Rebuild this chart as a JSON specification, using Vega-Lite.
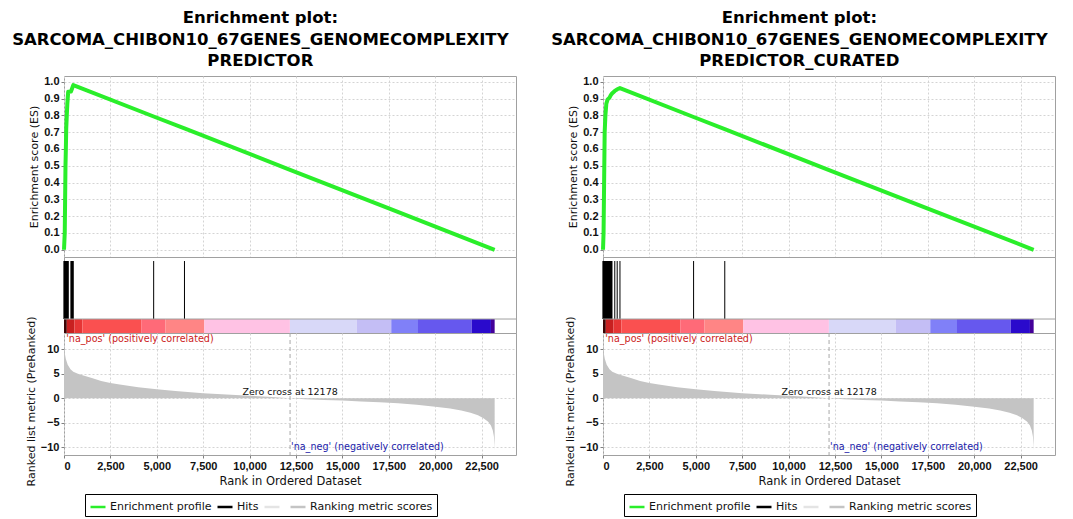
{
  "$schema": "https://vega.github.io/schema/vega-lite/v6.json",
  "background": "white",
  "padding": {"left": 11, "top": 9, "right": 5, "bottom": 0},
  "config": {
    "font": "DejaVu Sans",
    "view": {"stroke": "#a0a0a0", "strokeWidth": 1},
    "axis": {"gridColor": "#d4d4d4", "gridDash": [2, 2], "gridWidth": 1, "domain": false, "tickColor": "#808080", "tickSize": 3, "labelFont": "Liberation Sans", "labelFontSize": 11, "labelFontWeight": "bold", "labelColor": "#111", "titleFont": "DejaVu Sans", "titleFontSize": 11, "titleFontWeight": "normal", "titleColor": "#111", "labelPadding": 2, "titlePadding": 4, "labelOverlap": false},
    "title": {"font": "DejaVu Sans", "fontSize": 16.5, "fontWeight": "bold", "lineHeight": 21.5, "color": "#000"},
    "legend": {"orient": "none", "legendX": 21, "legendY": 418, "direction": "horizontal", "title": null, "symbolType": "stroke", "symbolSize": 225, "symbolStrokeWidth": 2.5, "labelFontSize": 11, "labelFont": "DejaVu Sans", "labelColor": "#111", "strokeColor": "#000", "fillColor": "#fff", "padding": 4, "columnPadding": 0, "labelOffset": 3, "labelLimit": 300}
  },
  "datasets": {
    "es_left": [
      {"rank": 0, "es": 0}, {"rank": 20, "es": 0.05}, {"rank": 40, "es": 0.1}, {"rank": 60, "es": 0.3}, {"rank": 80, "es": 0.5}, {"rank": 100, "es": 0.6}, {"rank": 120, "es": 0.72}, {"rank": 150, "es": 0.8}, {"rank": 180, "es": 0.87}, {"rank": 200, "es": 0.9}, {"rank": 224, "es": 0.94}, {"rank": 375, "es": 0.942}, {"rank": 420, "es": 0.955}, {"rank": 460, "es": 0.968}, {"rank": 500, "es": 0.98},
      {"rank": 4830, "es": 0.793}, {"rank": 6490, "es": 0.722}, {"rank": 12178, "es": 0.476}, {"rank": 17500, "es": 0.246}, {"rank": 23200, "es": 0}
    ],
    "es_right": [
      {"rank": 0, "es": 0}, {"rank": 30, "es": 0.1}, {"rank": 60, "es": 0.4}, {"rank": 90, "es": 0.7}, {"rank": 130, "es": 0.8}, {"rank": 180, "es": 0.87}, {"rank": 250, "es": 0.895}, {"rank": 350, "es": 0.905}, {"rank": 420, "es": 0.92}, {"rank": 485, "es": 0.93}, {"rank": 634, "es": 0.945}, {"rank": 765, "es": 0.955}, {"rank": 914, "es": 0.962},
      {"rank": 4880, "es": 0.79}, {"rank": 6560, "es": 0.718}, {"rank": 12178, "es": 0.474}, {"rank": 17500, "es": 0.245}, {"rank": 23200, "es": 0}
    ],
    "hits_left": [
      {"rank": 0}, {"rank": 15}, {"rank": 30}, {"rank": 45}, {"rank": 60}, {"rank": 75}, {"rank": 90}, {"rank": 105}, {"rank": 120}, {"rank": 135}, {"rank": 150}, {"rank": 165}, {"rank": 180}, {"rank": 195}, {"rank": 210}, {"rank": 224},
      {"rank": 375}, {"rank": 395}, {"rank": 415}, {"rank": 435}, {"rank": 455}, {"rank": 475}, {"rank": 495},
      {"rank": 4830}, {"rank": 6490}
    ],
    "hits_right": [
      {"rank": 0}, {"rank": 15}, {"rank": 30}, {"rank": 45}, {"rank": 60}, {"rank": 75}, {"rank": 90}, {"rank": 105}, {"rank": 120}, {"rank": 135}, {"rank": 150}, {"rank": 165}, {"rank": 180}, {"rank": 195}, {"rank": 210}, {"rank": 225}, {"rank": 240}, {"rank": 255}, {"rank": 270}, {"rank": 285}, {"rank": 300}, {"rank": 315}, {"rank": 330}, {"rank": 345}, {"rank": 360}, {"rank": 375}, {"rank": 390}, {"rank": 405}, {"rank": 420}, {"rank": 435}, {"rank": 450}, {"rank": 465}, {"rank": 480},
      {"rank": 634}, {"rank": 765}, {"rank": 914}, {"rank": 4880}, {"rank": 6560}
    ],
    "metric": [
      {"rank": 0, "score": 12.0}, {"rank": 20, "score": 10.5}, {"rank": 50, "score": 9.0}, {"rank": 100, "score": 8.0}, {"rank": 200, "score": 6.8}, {"rank": 350, "score": 5.9}, {"rank": 500, "score": 5.4}, {"rank": 750, "score": 5.0}, {"rank": 1000, "score": 4.7}, {"rank": 1500, "score": 4.1}, {"rank": 2000, "score": 3.5}, {"rank": 2500, "score": 3.1}, {"rank": 3000, "score": 2.8}, {"rank": 4000, "score": 2.25}, {"rank": 5000, "score": 1.8}, {"rank": 6000, "score": 1.45}, {"rank": 7500, "score": 1.0}, {"rank": 9000, "score": 0.7}, {"rank": 10000, "score": 0.5}, {"rank": 11000, "score": 0.3}, {"rank": 12178, "score": 0},
      {"rank": 13000, "score": -0.2}, {"rank": 14000, "score": -0.35}, {"rank": 15000, "score": -0.5}, {"rank": 16000, "score": -0.7}, {"rank": 17000, "score": -0.85}, {"rank": 18000, "score": -1.05}, {"rank": 19000, "score": -1.35}, {"rank": 20000, "score": -1.75}, {"rank": 20800, "score": -2.1}, {"rank": 21400, "score": -2.5}, {"rank": 21900, "score": -3.0}, {"rank": 22300, "score": -3.5}, {"rank": 22600, "score": -4.1}, {"rank": 22850, "score": -4.8}, {"rank": 23000, "score": -5.6}, {"rank": 23100, "score": -6.6}, {"rank": 23160, "score": -7.8}, {"rank": 23190, "score": -9.5}, {"rank": 23200, "score": -10.8}
    ],
    "bar": [
      {"start": 0, "end": 150, "level": "r1"}, {"start": 150, "end": 560, "level": "r2"}, {"start": 560, "end": 990, "level": "r3"}, {"start": 990, "end": 4160, "level": "r4"}, {"start": 4160, "end": 5470, "level": "r5"}, {"start": 5470, "end": 7560, "level": "r6"}, {"start": 7560, "end": 12170, "level": "r7"},
      {"start": 12170, "end": 15770, "level": "b7"}, {"start": 15770, "end": 17630, "level": "b6"}, {"start": 17630, "end": 19070, "level": "b5"}, {"start": 19070, "end": 21960, "level": "b4"}, {"start": 21960, "end": 23000, "level": "b3"}, {"start": 23000, "end": 23200, "level": "b2"}
    ]
  },
  "spacing": 33,
  "resolve": {"scale": {"color": "independent"}, "legend": {"color": "independent"}},
  "hconcat": [
    {
      "spacing": 0,
      "bounds": "flush",
      "vconcat": [
        {
          "title": {"text": ["Enrichment plot:", "SARCOMA_CHIBON10_67GENES_GENOMECOMPLEXITY", "PREDICTOR"], "anchor": "middle", "frame": "bounds", "offset": 6, "dx": -12},
          "width": 452, "height": 181,
          "data": {"name": "es_left"},
          "mark": {"type": "line", "strokeWidth": 4, "strokeJoin": "round"},
          "encoding": {
            "x": {"field": "rank", "type": "quantitative", "scale": {"domain": [0, 24350], "nice": false, "zero": false}, "axis": {"title": null, "labels": false, "ticks": false, "grid": true, "values": [0, 2500, 5000, 7500, 10000, 12500, 15000, 17500, 20000, 22500]}},
            "y": {"field": "es", "type": "quantitative", "scale": {"domain": [-0.043, 1.034], "nice": false, "zero": false}, "axis": {"title": "Enrichment score (ES)", "values": [0, 0.1, 0.2, 0.3, 0.4, 0.5, 0.6, 0.7, 0.8, 0.9, 1.0], "format": ".1f"}},
            "color": {"datum": "Enrichment profile", "type": "nominal", "scale": {"domain": ["Enrichment profile", "Hits", " ", "Ranking metric scores"], "range": ["#2aee2a", "#000000", "#e4e4e4", "#c4c4c4"]}}
          }
        },
        {
          "width": 452, "height": 76,
          "layer": [
            {
              "data": {"name": "bar"},
              "mark": {"type": "rect"},
              "encoding": {
                "x": {"field": "start", "type": "quantitative", "scale": {"domain": [0, 24350], "nice": false, "zero": false}, "axis": null},
                "x2": {"field": "end"},
                "y": {"datum": 0, "type": "quantitative", "scale": {"domain": [0, 1], "nice": false}, "axis": null},
                "y2": {"datum": 0.184},
                "fill": {"field": "level", "type": "nominal", "legend": null, "scale": {"domain": ["r1", "r2", "r3", "r4", "r5", "r6", "r7", "b7", "b6", "b5", "b4", "b3", "b2"], "range": ["#3a0505", "#c82020", "#e63535", "#fa5050", "#ff6a78", "#ff8585", "#ffc2e4", "#d8d8f8", "#c4bef5", "#8080f8", "#6658ee", "#2a0acc", "#440099"]}}
              }
            },
            {
              "data": {"name": "hits_left"},
              "mark": {"type": "rule", "color": "#000", "strokeWidth": 1},
              "encoding": {
                "x": {"field": "rank", "type": "quantitative", "axis": null},
                "y": {"datum": 0.184, "type": "quantitative", "axis": null},
                "y2": {"datum": 0.947}
              }
            },
            {
              "data": {"values": [{}]},
              "mark": {"type": "rule", "color": "#a0a0a0", "strokeWidth": 1},
              "encoding": {"y": {"datum": 0.184, "type": "quantitative", "axis": null}}
            }
          ]
        },
        {
          "width": 452, "height": 122,
          "layer": [
            {
              "data": {"name": "metric"},
              "mark": {"type": "area", "color": "#c4c4c4"},
              "encoding": {
                "x": {"field": "rank", "type": "quantitative", "scale": {"domain": [0, 24350], "nice": false, "zero": false}, "axis": {"title": "Rank in Ordered Dataset", "titleFontSize": 11.5, "grid": true, "values": [0, 2500, 5000, 7500, 10000, 12500, 15000, 17500, 20000, 22500], "labelExpr": "format(datum.value, ',')"}},
                "y": {"field": "score", "type": "quantitative", "scale": {"domain": [-11.6, 13.3], "nice": false, "zero": false}, "axis": {"title": "Ranked list metric (PreRanked)", "values": [-10, -5, 0, 5, 10], "labelExpr": "format(datum.value, 'd')", "titleY": 68}},
                "y2": {"datum": 0}
              }
            },
            {
              "data": {"values": [{}]},
              "mark": {"type": "rule", "color": "#a8a8a8", "strokeDash": [4, 3], "strokeWidth": 1},
              "encoding": {"x": {"datum": 12178, "type": "quantitative", "axis": {"title": "Rank in Ordered Dataset", "titleFontSize": 11.5, "grid": true, "values": [0, 2500, 5000, 7500, 10000, 12500, 15000, 17500, 20000, 22500], "labelExpr": "format(datum.value, ',')"}}}
            },
            {
              "data": {"values": [{}]},
              "mark": {"type": "text", "text": "Zero cross at 12178", "fontSize": 9.5, "color": "#111", "baseline": "bottom", "align": "center", "dy": -1},
              "encoding": {
                "x": {"datum": 12178, "type": "quantitative", "axis": {"title": "Rank in Ordered Dataset", "titleFontSize": 11.5, "grid": true, "values": [0, 2500, 5000, 7500, 10000, 12500, 15000, 17500, 20000, 22500], "labelExpr": "format(datum.value, ',')"}},
                "y": {"datum": 0, "type": "quantitative", "axis": {"title": "Ranked list metric (PreRanked)", "values": [-10, -5, 0, 5, 10], "labelExpr": "format(datum.value, 'd')", "titleY": 68}}
              }
            },
            {
              "data": {"values": [{}]},
              "mark": {"type": "text", "text": "'na_pos' (positively correlated)", "fontSize": 9.6, "color": "#cc2222", "baseline": "top", "align": "left", "dy": 1},
              "encoding": {
                "x": {"datum": 120, "type": "quantitative", "axis": {"title": "Rank in Ordered Dataset", "titleFontSize": 11.5, "grid": true, "values": [0, 2500, 5000, 7500, 10000, 12500, 15000, 17500, 20000, 22500], "labelExpr": "format(datum.value, ',')"}},
                "y": {"datum": 13.3, "type": "quantitative", "axis": {"title": "Ranked list metric (PreRanked)", "values": [-10, -5, 0, 5, 10], "labelExpr": "format(datum.value, 'd')", "titleY": 68}}
              }
            },
            {
              "data": {"values": [{}]},
              "mark": {"type": "text", "text": "'na_neg' (negatively correlated)", "fontSize": 9.6, "color": "#2222aa", "baseline": "middle", "align": "left"},
              "encoding": {
                "x": {"datum": 12230, "type": "quantitative", "axis": {"title": "Rank in Ordered Dataset", "titleFontSize": 11.5, "grid": true, "values": [0, 2500, 5000, 7500, 10000, 12500, 15000, 17500, 20000, 22500], "labelExpr": "format(datum.value, ',')"}},
                "y": {"datum": -10, "type": "quantitative", "axis": {"title": "Ranked list metric (PreRanked)", "values": [-10, -5, 0, 5, 10], "labelExpr": "format(datum.value, 'd')", "titleY": 68}}
              }
            }
          ]
        }
      ]
    },
    {
      "spacing": 0,
      "bounds": "flush",
      "vconcat": [
        {
          "title": {"text": ["Enrichment plot:", "SARCOMA_CHIBON10_67GENES_GENOMECOMPLEXITY", "PREDICTOR_CURATED"], "anchor": "middle", "frame": "bounds", "offset": 6, "dx": -12},
          "width": 452, "height": 181,
          "data": {"name": "es_right"},
          "mark": {"type": "line", "strokeWidth": 4, "strokeJoin": "round"},
          "encoding": {
            "x": {"field": "rank", "type": "quantitative", "scale": {"domain": [0, 24350], "nice": false, "zero": false}, "axis": {"title": null, "labels": false, "ticks": false, "grid": true, "values": [0, 2500, 5000, 7500, 10000, 12500, 15000, 17500, 20000, 22500]}},
            "y": {"field": "es", "type": "quantitative", "scale": {"domain": [-0.043, 1.034], "nice": false, "zero": false}, "axis": {"title": "Enrichment score (ES)", "values": [0, 0.1, 0.2, 0.3, 0.4, 0.5, 0.6, 0.7, 0.8, 0.9, 1.0], "format": ".1f"}},
            "color": {"datum": "Enrichment profile", "type": "nominal", "scale": {"domain": ["Enrichment profile", "Hits", " ", "Ranking metric scores"], "range": ["#2aee2a", "#000000", "#e4e4e4", "#c4c4c4"]}}
          }
        },
        {
          "width": 452, "height": 76,
          "layer": [
            {
              "data": {"name": "bar"},
              "mark": {"type": "rect"},
              "encoding": {
                "x": {"field": "start", "type": "quantitative", "scale": {"domain": [0, 24350], "nice": false, "zero": false}, "axis": null},
                "x2": {"field": "end"},
                "y": {"datum": 0, "type": "quantitative", "scale": {"domain": [0, 1], "nice": false}, "axis": null},
                "y2": {"datum": 0.184},
                "fill": {"field": "level", "type": "nominal", "legend": null, "scale": {"domain": ["r1", "r2", "r3", "r4", "r5", "r6", "r7", "b7", "b6", "b5", "b4", "b3", "b2"], "range": ["#3a0505", "#c82020", "#e63535", "#fa5050", "#ff6a78", "#ff8585", "#ffc2e4", "#d8d8f8", "#c4bef5", "#8080f8", "#6658ee", "#2a0acc", "#440099"]}}
              }
            },
            {
              "data": {"name": "hits_right"},
              "mark": {"type": "rule", "color": "#000", "strokeWidth": 1},
              "encoding": {
                "x": {"field": "rank", "type": "quantitative", "axis": null},
                "y": {"datum": 0.184, "type": "quantitative", "axis": null},
                "y2": {"datum": 0.947}
              }
            },
            {
              "data": {"values": [{}]},
              "mark": {"type": "rule", "color": "#a0a0a0", "strokeWidth": 1},
              "encoding": {"y": {"datum": 0.184, "type": "quantitative", "axis": null}}
            }
          ]
        },
        {
          "width": 452, "height": 122,
          "layer": [
            {
              "data": {"name": "metric"},
              "mark": {"type": "area", "color": "#c4c4c4"},
              "encoding": {
                "x": {"field": "rank", "type": "quantitative", "scale": {"domain": [0, 24350], "nice": false, "zero": false}, "axis": {"title": "Rank in Ordered Dataset", "titleFontSize": 11.5, "grid": true, "values": [0, 2500, 5000, 7500, 10000, 12500, 15000, 17500, 20000, 22500], "labelExpr": "format(datum.value, ',')"}},
                "y": {"field": "score", "type": "quantitative", "scale": {"domain": [-11.6, 13.3], "nice": false, "zero": false}, "axis": {"title": "Ranked list metric (PreRanked)", "values": [-10, -5, 0, 5, 10], "labelExpr": "format(datum.value, 'd')", "titleY": 68}},
                "y2": {"datum": 0}
              }
            },
            {
              "data": {"values": [{}]},
              "mark": {"type": "rule", "color": "#a8a8a8", "strokeDash": [4, 3], "strokeWidth": 1},
              "encoding": {"x": {"datum": 12178, "type": "quantitative", "axis": {"title": "Rank in Ordered Dataset", "titleFontSize": 11.5, "grid": true, "values": [0, 2500, 5000, 7500, 10000, 12500, 15000, 17500, 20000, 22500], "labelExpr": "format(datum.value, ',')"}}}
            },
            {
              "data": {"values": [{}]},
              "mark": {"type": "text", "text": "Zero cross at 12178", "fontSize": 9.5, "color": "#111", "baseline": "bottom", "align": "center", "dy": -1},
              "encoding": {
                "x": {"datum": 12178, "type": "quantitative", "axis": {"title": "Rank in Ordered Dataset", "titleFontSize": 11.5, "grid": true, "values": [0, 2500, 5000, 7500, 10000, 12500, 15000, 17500, 20000, 22500], "labelExpr": "format(datum.value, ',')"}},
                "y": {"datum": 0, "type": "quantitative", "axis": {"title": "Ranked list metric (PreRanked)", "values": [-10, -5, 0, 5, 10], "labelExpr": "format(datum.value, 'd')", "titleY": 68}}
              }
            },
            {
              "data": {"values": [{}]},
              "mark": {"type": "text", "text": "'na_pos' (positively correlated)", "fontSize": 9.6, "color": "#cc2222", "baseline": "top", "align": "left", "dy": 1},
              "encoding": {
                "x": {"datum": 120, "type": "quantitative", "axis": {"title": "Rank in Ordered Dataset", "titleFontSize": 11.5, "grid": true, "values": [0, 2500, 5000, 7500, 10000, 12500, 15000, 17500, 20000, 22500], "labelExpr": "format(datum.value, ',')"}},
                "y": {"datum": 13.3, "type": "quantitative", "axis": {"title": "Ranked list metric (PreRanked)", "values": [-10, -5, 0, 5, 10], "labelExpr": "format(datum.value, 'd')", "titleY": 68}}
              }
            },
            {
              "data": {"values": [{}]},
              "mark": {"type": "text", "text": "'na_neg' (negatively correlated)", "fontSize": 9.6, "color": "#2222aa", "baseline": "middle", "align": "left"},
              "encoding": {
                "x": {"datum": 12230, "type": "quantitative", "axis": {"title": "Rank in Ordered Dataset", "titleFontSize": 11.5, "grid": true, "values": [0, 2500, 5000, 7500, 10000, 12500, 15000, 17500, 20000, 22500], "labelExpr": "format(datum.value, ',')"}},
                "y": {"datum": -10, "type": "quantitative", "axis": {"title": "Ranked list metric (PreRanked)", "values": [-10, -5, 0, 5, 10], "labelExpr": "format(datum.value, 'd')", "titleY": 68}}
              }
            }
          ]
        }
      ]
    }
  ]
}
